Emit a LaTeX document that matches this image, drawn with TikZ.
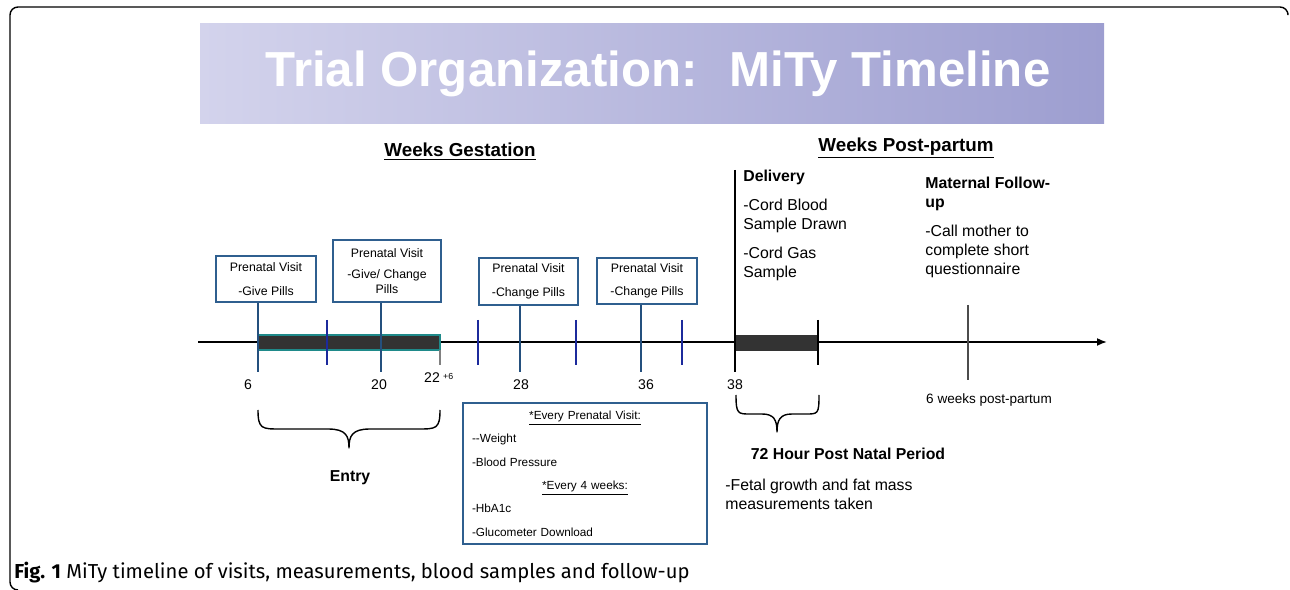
\documentclass[tikz,border=0pt]{standalone}
\usepackage{fontspec}
\setmainfont{Liberation Sans}
\newfontfamily\capfont{Fira Sans}
\usetikzlibrary{arrows.meta,positioning,calc}
\definecolor{visitblue}{HTML}{24507E}
\definecolor{tickblue}{HTML}{1C2A9C}
\definecolor{boxblue}{HTML}{2F5F8F}
\definecolor{barfill}{HTML}{333333}
\definecolor{barteal}{HTML}{1F8A8A}
\definecolor{bandleft}{HTML}{D3D3EC}
\definecolor{bandright}{HTML}{9D9ED0}
\tikzset{
  visitbox/.style={draw=boxblue, line width=0.9pt, align=center, inner sep=0pt,
    font=\fontsize{7}{8.4}\selectfont},
  visitline/.style={draw=visitblue, line width=1.6pt},
  minortick/.style={draw=tickblue, line width=0.6pt},
  weeklbl/.style={font=\fontsize{8}{9.6}\selectfont, inner sep=0pt},
  heading/.style={font=\fontsize{10.7}{12.5}\selectfont\bfseries, inner sep=0pt},
  note/.style={font=\fontsize{9}{10.8}\selectfont, align=left, inner sep=0pt},
  bracepath/.style={line width=0.8pt, line join=round},
}
\begin{document}
\begin{tikzpicture}[x=0.02cm, y=-0.02cm]
	\useasboundingbox (0,0) rectangle (1290,590);
	% frame and title band
	\draw[line width=0.8pt, rounded corners=0.16cm] (1288,13) -- (1288,7) -- (10,7) -- (10,590) -- (18,590);
	\shade[left color=bandleft, right color=bandright] (200,24) rectangle (1104,124);
	\node[text=white, inner sep=0pt, font=\fontsize{28}{32}\selectfont\bfseries] (title) at (658,74) {Trial Organization:~ MiTy Timeline};

	% headings
	\node[heading] (gest) at (460,152) {\underline{Weeks Gestation}};
	\node[heading] (postpartum) at (906,148) {\underline{Weeks Post-partum}};

	% time axis
	\coordinate (axstart) at (198,342);
	\coordinate (axend) at (1107,342);
	\draw[line width=1pt, -{Latex[length=2mm,width=1.6mm]}] (axstart) -- (axend);
	\draw[fill=barfill, draw=barteal, line width=0.7pt] (258,335) rectangle (440,350);
	\draw[fill=barfill, draw=barfill, line width=0.5pt] (735,335) rectangle (818,350);

	% thin ticks
	\foreach \x in {327, 478, 576, 682}
		\draw[minortick] (\x,320) -- (\x,365);
	\draw[gray, line width=0.6pt] (440,350) -- (440,365);
	\draw[line width=0.8pt] (818,320) -- (818,365);

	% prenatal visits
	\node[visitbox, minimum width=2cm, minimum height=0.92cm] (v1) at (266,279) {Prenatal Visit\\[5pt]-Give Pills};
	\node[visitbox, minimum width=2.16cm, minimum height=1.24cm] (v2) at (387,271) {Prenatal Visit\\[4pt]-Give/ Change\\Pills};
	\node[visitbox, minimum width=1.98cm, minimum height=0.94cm] (v3) at (528.5,281.5) {Prenatal Visit\\[5pt]-Change Pills};
	\node[visitbox, minimum width=2cm, minimum height=0.92cm] (v4) at (647,281) {Prenatal Visit\\[5pt]-Change Pills};
	\coordinate (w6) at (258,372);
	\coordinate (w20) at (381,372);
	\coordinate (w28) at (520,372);
	\coordinate (w36) at (641,372);
	\draw[visitline] (v1.south -| w6) -- (w6);
	\draw[visitline] (v2.south -| w20) -- (w20);
	\draw[visitline] (v3.south -| w28) -- (w28);
	\draw[visitline] (v4.south -| w36) -- (w36);

	% delivery and follow-up
	\coordinate (deltop) at (735,170);
	\coordinate (delbot) at (735,372);
	\draw[line width=1.2pt] (deltop) -- (delbot);
	\coordinate (futop) at (968,305);
	\coordinate (fubot) at (968,380);
	\draw[gray!60!black, line width=1.3pt] (futop) -- (fubot);
	\node[note, anchor=north west] (deliv) at (743,170) {\textbf{Delivery}\\[5.5pt]-Cord Blood\\Sample Drawn\\[5.5pt]-Cord Gas\\Sample};
	\node[note, anchor=north west] (matfu) at (925,177) {\textbf{Maternal Follow-}\\\textbf{up}\\[5.5pt]-Call mother to\\complete short\\questionnaire};

	% week labels
	\node[weeklbl] (l6) at (248,385) {6};
	\node[weeklbl] (l20) at (379,385) {20};
	\node[weeklbl] (l22) at (432,378) {22};
	\node[weeklbl, font=\fontsize{5}{6}\selectfont, right=1.5pt of l22.north east, anchor=north west] (l22s) {+6};
	\node[weeklbl] (l28) at (521,385) {28};
	\node[weeklbl] (l36) at (646,385) {36};
	\node[weeklbl] (l38) at (735,385) {38};
	\node[weeklbl, font=\fontsize{7.7}{9}\selectfont] (pp6) at (989,400) {6 weeks post-partum};

	% braces
	\draw[bracepath] (258,410) .. controls (258,429) and (262,429) .. (280,429) -- (328,429)
		.. controls (346,429) and (349,436) .. (349,448) .. controls (349,436) and (352,429) .. (370,429)
		-- (418,429) .. controls (436,429) and (440,429) .. (440,410);
	\draw[bracepath] (736,395) .. controls (736,414) and (738,414) .. (750,414) -- (762,414)
		.. controls (774,414) and (777,420) .. (777,432) .. controls (777,420) and (780,414) .. (792,414)
		-- (806,414) .. controls (818,414) and (819,414) .. (819,395);
	\node[font=\fontsize{9}{10.8}\selectfont\bfseries, inner sep=0pt] (entry) at (350,478) {Entry};
	\node[font=\fontsize{9}{10.8}\selectfont\bfseries, inner sep=0pt] (postnatal) at (848,454) {72 Hour Post Natal Period};
	\node[note, anchor=north west] (fetal) at (725,479) {-Fetal growth and fat mass\\measurements taken};

	% measurements box
	\node[draw=boxblue, line width=0.9pt, minimum width=4.88cm, minimum height=2.82cm, text width=4.52cm,
		inner xsep=0.18cm, inner ysep=0pt, font=\fontsize{6.7}{13.3}\selectfont] (everyvisit) at (585,473.5)
		{\setlength{\parindent}{0pt}%
		{\centering\underline{*Every Prenatal Visit:}\par}
		-{}-Weight\par
		-Blood Pressure\par
		{\centering\underline{*Every 4 weeks:}\par}
		-HbA1c\par
		-Glucometer Download};

	% caption
	\node[anchor=west, inner sep=0pt, font=\capfont\fontsize{11.5}{13}\selectfont] (caption) at (14,573)
		{\textbf{Fig. 1} MiTy timeline of visits, measurements, blood samples and follow-up};
\end{tikzpicture}
\end{document}
